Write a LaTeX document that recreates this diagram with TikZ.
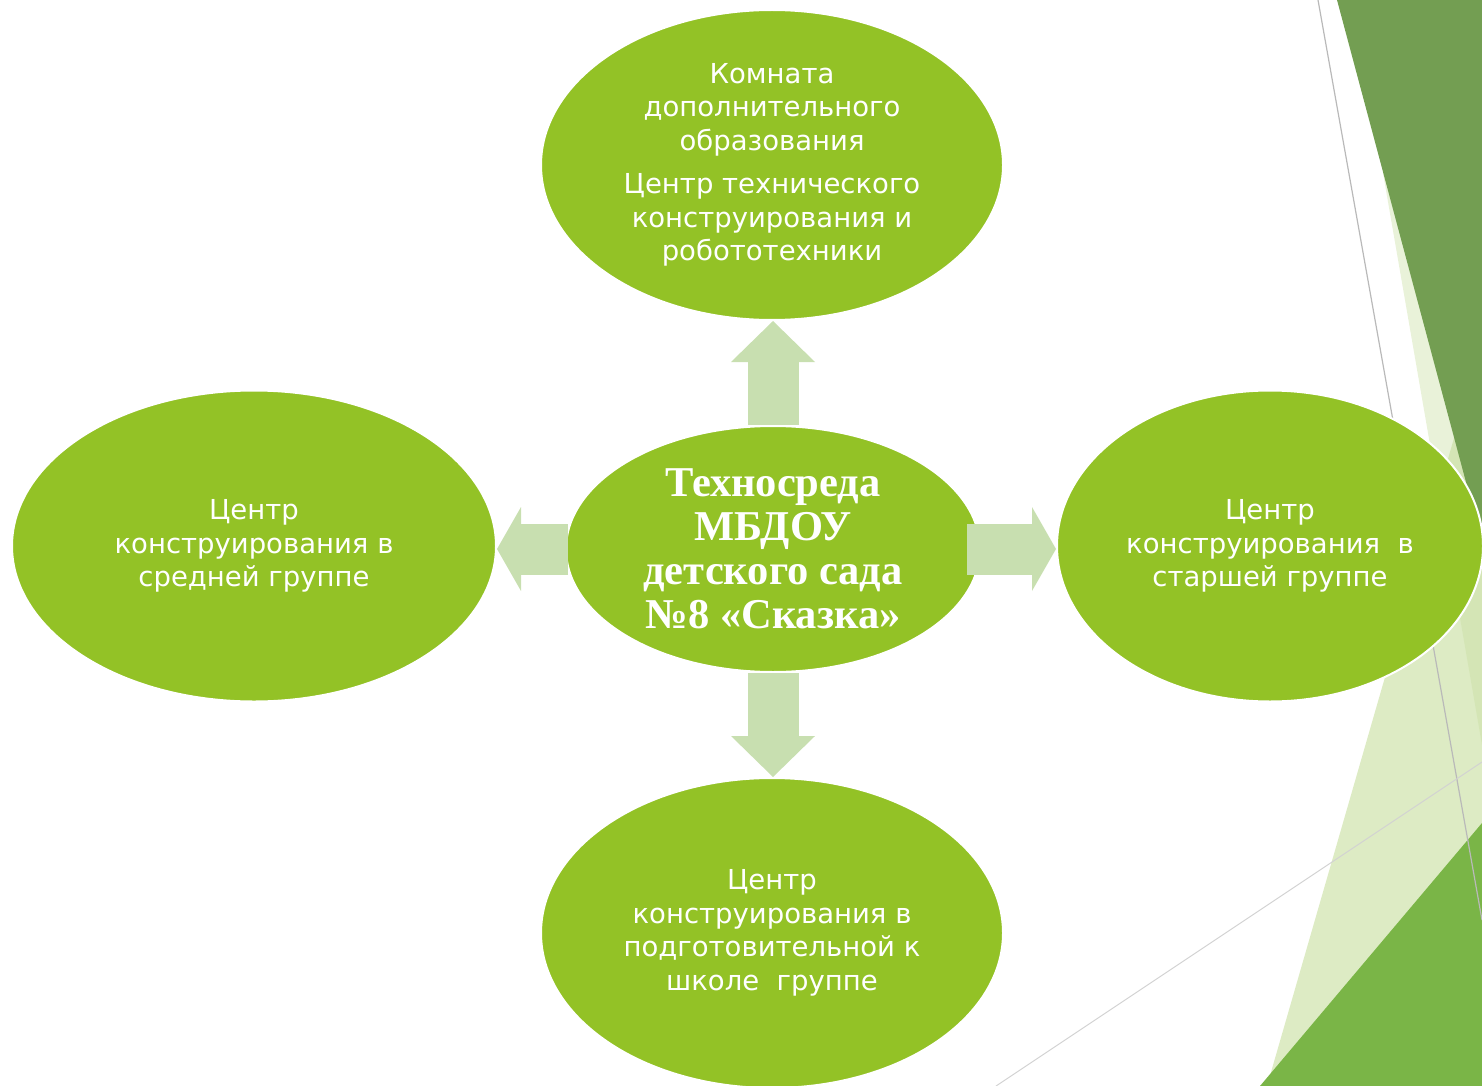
\documentclass[tikz,border=0pt]{standalone}
\usepackage{fontspec}
\setmainfont{Liberation Serif}
\newfontfamily\ovalfont{DejaVu Sans}
\usetikzlibrary{shapes.geometric,arrows.meta}
\definecolor{ovalgreen}{RGB}{147,194,38}
\definecolor{arrowgreen}{RGB}{200,223,176}
\definecolor{darkleaf}{RGB}{115,158,82}
\definecolor{midleaf}{RGB}{122,181,71}
\definecolor{paleleaf}{RGB}{221,235,196}
\definecolor{veilleaf}{RGB}{200,222,160}
\tikzset{
  oval/.style={ellipse, fill=ovalgreen, draw=white, line width=2pt, inner sep=0pt,
    text=white, align=center, font=\ovalfont\fontsize{27.5}{33.5}\selectfont},
  flowup/.style={draw=arrowgreen, line width=51pt,
    -{Triangle[width=84pt,length=41pt,line width=0pt]}},
  flowside/.style={draw=arrowgreen, line width=51pt,
    -{Triangle[width=84pt,length=24pt,line width=0pt]}},
}
\begin{document}
\begin{tikzpicture}[x=1pt,y=-1pt]
    \clip (0,0) rectangle (1482,1086);
    % background leaves
    \fill[paleleaf] (1267,1086) -- (1482,341) -- (1482,1086) -- cycle;
    \fill[veilleaf, fill opacity=0.4] (1383,173) -- (1482,745) -- (1482,173) -- cycle;
    \fill[darkleaf] (1337,0) -- (1482,0) -- (1482,542) -- cycle;
    \fill[midleaf] (1260,1086) -- (1482,823) -- (1482,1086) -- cycle;
    \draw[gray!55, line width=1.2pt] (1318,0) -- (1482,920);
    \draw[gray!35, line width=1pt] (996,1086) -- (1482,762);

    \node[oval, minimum width=462pt, minimum height=310pt] (komnata) at (772,165)
        {Комната\\дополнительного\\образования\\[10pt]Центр технического\\конструирования и\\робототехники};
    \node[oval, minimum width=414pt, minimum height=246pt,
        font=\bfseries\fontsize{42.5}{44}\selectfont] (sreda) at (773,549)
        {Техносреда\\МБДОУ\\детского сада\\№8 «Сказка»};
    \node[oval, minimum width=484pt, minimum height=311pt] (srednyaya) at (254,546)
        {Центр\\конструирования в\\средней группе};
    \node[oval, minimum width=426pt, minimum height=311pt] (starshaya) at (1270,546)
        {Центр\\конструирования~ в\\старшей группе};
    \node[oval, minimum width=462pt, minimum height=310pt] (podgot) at (772,933)
        {Центр\\конструирования в\\подготовительной к\\школе~ группе};

    \draw[flowup] (sreda.north) -- (sreda.north |- komnata.south);
    \draw[flowup] (sreda.south) -- (sreda.south |- podgot.north);
    \draw[flowside, shorten <=-3pt] (sreda.west) -- (sreda.west -| srednyaya.east);
    \draw[flowside, shorten <=-14pt] (sreda.east) -- (sreda.east -| starshaya.west);
\end{tikzpicture}
\end{document}
